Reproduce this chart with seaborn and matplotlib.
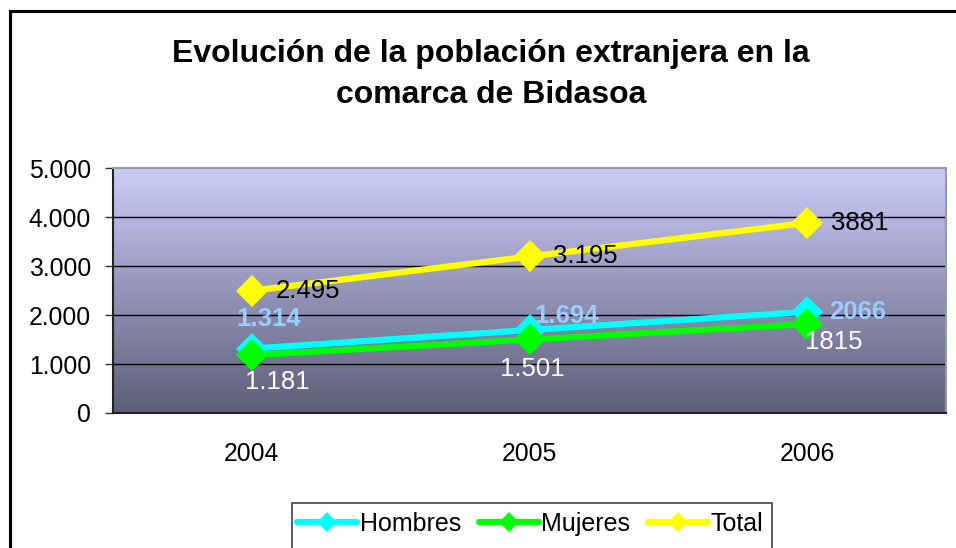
import numpy as np
import pandas as pd
import matplotlib
matplotlib.use("Agg")
import matplotlib.pyplot as plt
import matplotlib.patches as mpatches
from matplotlib.lines import Line2D
import seaborn as sns

years = ["2004", "2005", "2006"]
hombres = [1314, 1694, 2066]
mujeres = [1181, 1501, 1815]
total = [2495, 3195, 3881]
series_names = ["Hombres", "Mujeres", "Total"]
hombres_labels = ["1.314", "1.694", "2066"]
mujeres_labels = ["1.181", "1.501", "1815"]
total_labels = ["2.495", "3.195", "3881"]
y_ticks = [0, 1000, 2000, 3000, 4000, 5000]
y_tick_labels = ["0", "1.000", "2.000", "3.000", "4.000", "5.000"]
title = "Evolución de la población extranjera en la\ncomarca de Bidasoa"

colors = {"Hombres": "#00FFFF", "Mujeres": "#00FF00", "Total": "#FFFF00"}

sns.set_theme(style="white")
plt.rcParams["font.family"] = ["Liberation Sans", "DejaVu Sans"]
plt.rcParams["text.color"] = "black"
plt.rcParams["xtick.color"] = "black"
plt.rcParams["ytick.color"] = "black"
plt.rcParams["xtick.labelcolor"] = "black"
plt.rcParams["ytick.labelcolor"] = "black"

df = pd.DataFrame({
    "year": years * 3,
    "value": hombres + mujeres + total,
    "serie": [s for s in series_names for _ in years],
})

W, H = 956, 548
fig = plt.figure(figsize=(W / 100, H / 100), dpi=100)
fig.patch.set_facecolor("white")

# outer frame
frame = mpatches.Rectangle((9.5 / W, -0.1), 1.2, 1 - 11.5 / H + 0.1,
                           transform=fig.transFigure, fill=False,
                           edgecolor="black", linewidth=2.2, zorder=0)
fig.patches.append(frame)

left, right, top, bottom = 113 / W, 946 / W, 1 - 168 / H, 1 - 413 / H
ax = fig.add_axes([left, bottom, right - left, top - bottom])

# gradient background
grad = np.linspace(0, 1, 256).reshape(-1, 1)
top_c = np.array([204, 204, 250]) / 255
bot_c = np.array([93, 93, 120]) / 255
img = top_c[None, None, :] * (1 - grad[:, :, None]) + bot_c[None, None, :] * grad[:, :, None]
ax.imshow(img, extent=[-0.5, 2.5, 0, 5000], aspect="auto", zorder=0, origin="upper")

sns.lineplot(data=df, x="year", y="value", hue="serie", style="serie",
             palette=colors, markers=["D", "D", "D"], dashes=False,
             linewidth=4.5, markersize=16, markeredgewidth=0, ax=ax,
             legend=False, zorder=3)

tick_fs = 17.8
ax.set_xlim(-0.5, 2.5)
ax.set_ylim(0, 5000)
ax.set_yticks(y_ticks)
ax.set_yticklabels(y_tick_labels, fontsize=tick_fs)
ax.set_xticks(range(len(years)))
ax.set_xticklabels(years, fontsize=tick_fs)
ax.set_xticks([-0.5, 0.5, 1.5, 2.5], minor=True)
ax.tick_params(axis="x", which="major", length=0, pad=21)
ax.tick_params(axis="x", which="minor", length=7, width=1, color="#333333", direction="out")
ax.tick_params(axis="y", which="major", length=6, width=1, color="#333333", direction="out", pad=10, left=True)
ax.set_xlabel("")
ax.set_ylabel("")
ax.grid(False)
for y in y_ticks[1:-1]:
    ax.axhline(y, color="black", linewidth=1, zorder=1)

for s in ["left", "bottom"]:
    ax.spines[s].set_color("#222222")
    ax.spines[s].set_linewidth(1.5)
for s in ["top", "right"]:
    ax.spines[s].set_color("#999999")
    ax.spines[s].set_linewidth(1.5)

# data labels
lab_fs = 18.5
for i in range(3):
    ax.annotate(total_labels[i], (i, total[i]), xytext=(17, 0), textcoords="offset points",
                ha="left", va="center", fontsize=lab_fs, color="black", zorder=5)
ax.annotate(hombres_labels[0], (0, hombres[0]), xytext=(12, 21), textcoords="offset points",
            ha="center", va="center", fontsize=lab_fs, color="#99CCFF", fontweight="bold", zorder=5)
ax.annotate(hombres_labels[1], (1, hombres[1]), xytext=(27, 10), textcoords="offset points",
            ha="center", va="center", fontsize=lab_fs, color="#99CCFF", fontweight="bold", zorder=5)
ax.annotate(hombres_labels[2], (2, hombres[2]), xytext=(16, 0), textcoords="offset points",
            ha="left", va="center", fontsize=lab_fs, color="#99CCFF", fontweight="bold", zorder=5)
ax.annotate(mujeres_labels[0], (0, mujeres[0]), xytext=(18, -19), textcoords="offset points",
            ha="center", va="center", fontsize=lab_fs, color="white", zorder=5)
ax.annotate(mujeres_labels[1], (1, mujeres[1]), xytext=(2, -21), textcoords="offset points",
            ha="center", va="center", fontsize=lab_fs, color="white", zorder=5)
ax.annotate(mujeres_labels[2], (2, mujeres[2]), xytext=(19, -13), textcoords="offset points",
            ha="center", va="center", fontsize=lab_fs, color="white", zorder=5)

# title
fig.text(491 / W, 1 - 74.5 / H, title, ha="center", va="center", fontsize=23,
         fontweight="bold", linespacing=1.5, color="black")

# legend
handles = [Line2D([0], [0], color=colors[s], marker="D", linewidth=4.5,
                  markersize=10, markeredgewidth=0, solid_capstyle="round") for s in series_names]
leg = fig.legend(handles, series_names, loc="center", bbox_to_anchor=(530 / W, 1 - 524 / H),
                 ncol=3, frameon=False, fontsize=18, handlelength=2.4,
                 handletextpad=0.1, columnspacing=0.7)
for t in leg.get_texts():
    t.set_color("black")
lframe = mpatches.Rectangle((291.5 / W, -0.1), (772 - 291.5) / W, 0.1 + 1 - 503.5 / H,
                            transform=fig.transFigure, fill=False,
                            edgecolor="#444444", linewidth=1.2, zorder=0)
fig.patches.append(lframe)

fig.savefig("out.png", dpi=100)
